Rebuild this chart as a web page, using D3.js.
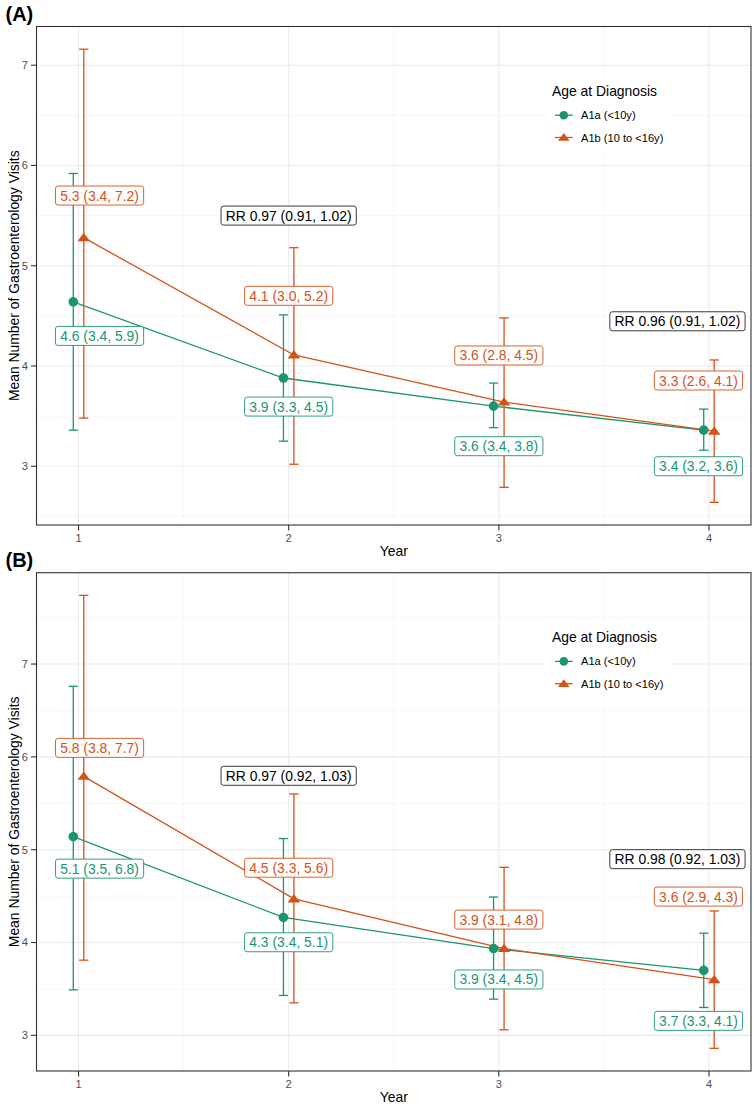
<!DOCTYPE html>
<html>
<head>
<meta charset="utf-8">
<script src="https://cdn.jsdelivr.net/npm/d3@7"></script>
<style>
  html, body { margin: 0; padding: 0; background: #fff; }
  svg { display: block; font-family: "Liberation Sans", Arial, Helvetica, sans-serif; }
</style>
</head>
<body>
<svg id="chart" width="754" height="1104"></svg>
<script>
// ---------------- DATA ----------------
const years = [1, 2, 3, 4];
const groupNames = ["A1a (<10y)", "A1b (10 to <16y)"];
const legendTitle = "Age at Diagnosis";
const yTicks = [3, 4, 5, 6, 7];
const xTicks = [1, 2, 3, 4];

// Panel A
const panelA_A1a_mean  = [4.64, 3.88, 3.60, 3.36];
const panelA_A1a_lower = [3.36, 3.25, 3.385, 3.16];
const panelA_A1a_upper = [5.92, 4.51, 3.83, 3.57];
const panelA_A1a_text  = ["4.6 (3.4, 5.9)", "3.9 (3.3, 4.5)", "3.6 (3.4, 3.8)", "3.4 (3.2, 3.6)"];
const panelA_A1a_labelY = [4.30, 3.595, 3.20, 3.00];

const panelA_A1b_mean  = [5.28, 4.11, 3.64, 3.35];
const panelA_A1b_lower = [3.48, 3.02, 2.79, 2.64];
const panelA_A1b_upper = [7.16, 5.18, 4.48, 4.06];
const panelA_A1b_text  = ["5.3 (3.4, 7.2)", "4.1 (3.0, 5.2)", "3.6 (2.8, 4.5)", "3.3 (2.6, 4.1)"];
const panelA_A1b_labelY = [5.70, 4.70, 4.105, 3.855];

const panelA_rr_text = ["RR 0.97 (0.91, 1.02)", "RR 0.96 (0.91, 1.02)"];
const panelA_rr_labelY = [5.50, 4.446];

// Panel B
const panelB_A1a_mean  = [5.14, 4.27, 3.935, 3.70];
const panelB_A1a_lower = [3.49, 3.43, 3.39, 3.30];
const panelB_A1a_upper = [6.76, 5.12, 4.49, 4.10];
const panelB_A1a_text  = ["5.1 (3.5, 6.8)", "4.3 (3.4, 5.1)", "3.9 (3.4, 4.5)", "3.7 (3.3, 4.1)"];
const panelB_A1a_labelY = [4.796, 4.003, 3.602, 3.156];

const panelB_A1b_mean  = [5.79, 4.47, 3.935, 3.60];
const panelB_A1b_lower = [3.81, 3.35, 3.06, 2.86];
const panelB_A1b_upper = [7.74, 5.60, 4.81, 4.34];
const panelB_A1b_text  = ["5.8 (3.8, 7.7)", "4.5 (3.3, 5.6)", "3.9 (3.1, 4.8)", "3.6 (2.9, 4.3)"];
const panelB_A1b_labelY = [6.097, 4.806, 4.247, 4.495];

const panelB_rr_text = ["RR 0.97 (0.92, 1.03)", "RR 0.98 (0.92, 1.03)"];
const panelB_rr_labelY = [5.796, 4.898];

// label anchor x (data units) per year, and for RR labels
const labelX = [1.10, 2, 3, 3.95];
const rrLabelX = [2, 3.85];

// ---------------- STYLE ----------------
const colors = ["#1b9570", "#d4521a"];
const W = 754, H = 1104;
const plotLeft = 36.5, plotRight = 751;
const panels = [
  { tag: "(A)", top: 26.5, bottom: 525,
    groups: [
      { mean: panelA_A1a_mean, lower: panelA_A1a_lower, upper: panelA_A1a_upper, text: panelA_A1a_text, ly: panelA_A1a_labelY },
      { mean: panelA_A1b_mean, lower: panelA_A1b_lower, upper: panelA_A1b_upper, text: panelA_A1b_text, ly: panelA_A1b_labelY }
    ],
    rr: { text: panelA_rr_text, ly: panelA_rr_labelY } },
  { tag: "(B)", top: 572.7, bottom: 1071,
    groups: [
      { mean: panelB_A1a_mean, lower: panelB_A1a_lower, upper: panelB_A1a_upper, text: panelB_A1a_text, ly: panelB_A1a_labelY },
      { mean: panelB_A1b_mean, lower: panelB_A1b_lower, upper: panelB_A1b_upper, text: panelB_A1b_text, ly: panelB_A1b_labelY }
    ],
    rr: { text: panelB_rr_text, ly: panelB_rr_labelY } }
];

const svg = d3.select("#chart");
svg.append("rect").attr("width", W).attr("height", H).attr("fill", "#fff");

const x = d3.scaleLinear().domain([0.8, 4.2]).range([plotLeft, plotRight]);
const dodge = 0.025;
const labelFont = 13.9;

function drawLabel(g, cx, cy, txt, color, borderColor) {
  const lg = g.append("g");
  const rect = lg.append("rect");
  const t = lg.append("text")
    .attr("x", cx).attr("y", cy + labelFont * 0.36)
    .attr("text-anchor", "middle")
    .attr("font-size", labelFont)
    .attr("fill", color)
    .text(txt);
  const tw = t.node().getComputedTextLength();
  const bw = tw + 9.4, bh = 19;
  rect.attr("x", cx - bw / 2).attr("y", cy - bh / 2)
    .attr("width", bw).attr("height", bh)
    .attr("rx", 2.5).attr("ry", 2.5)
    .attr("fill", "#fff").attr("stroke", borderColor).attr("stroke-width", 0.9);
}

function triangle(r) {
  const h = r * 1.5;
  return `M0,${-h * 0.62} L${r * 1.2},${h * 0.45} L${-r * 1.2},${h * 0.45} Z`;
}

panels.forEach(p => {
  const all = [];
  p.groups.forEach(gr => { all.push(...gr.lower, ...gr.upper, ...gr.mean); });
  const lo = d3.min(all), hi = d3.max(all), ex = (hi - lo) * 0.05;
  const y = d3.scaleLinear().domain([lo - ex, hi + ex]).range([p.bottom, p.top]);
  const g = svg.append("g");

  // grid
  const grid = g.append("g");
  const yMinor = d3.range(2.5, 8, 1).filter(v => v >= y.domain()[0] && v <= y.domain()[1]);
  const xMinor = [1.5, 2.5, 3.5];
  grid.selectAll(".ymin").data(yMinor).enter().append("line")
    .attr("x1", plotLeft).attr("x2", plotRight)
    .attr("y1", d => y(d)).attr("y2", d => y(d))
    .attr("stroke", "#f2f2f2").attr("stroke-width", 0.6);
  grid.selectAll(".xmin").data(xMinor).enter().append("line")
    .attr("y1", p.top).attr("y2", p.bottom)
    .attr("x1", d => x(d)).attr("x2", d => x(d))
    .attr("stroke", "#f2f2f2").attr("stroke-width", 0.6);
  grid.selectAll(".ymaj").data(yTicks).enter().append("line")
    .attr("x1", plotLeft).attr("x2", plotRight)
    .attr("y1", d => y(d)).attr("y2", d => y(d))
    .attr("stroke", "#ebebeb").attr("stroke-width", 1.1);
  grid.selectAll(".xmaj").data(xTicks).enter().append("line")
    .attr("y1", p.top).attr("y2", p.bottom)
    .attr("x1", d => x(d)).attr("x2", d => x(d))
    .attr("stroke", "#ebebeb").attr("stroke-width", 1.1);

  // lines
  p.groups.forEach((gr, gi) => {
    const off = gi === 0 ? -dodge : dodge;
    const line = d3.line().x((d, i) => x(years[i] + off)).y(d => y(d));
    g.append("path").attr("d", line(gr.mean))
      .attr("fill", "none").attr("stroke", colors[gi]).attr("stroke-width", 1.3);
  });
  // error bars
  p.groups.forEach((gr, gi) => {
    const off = gi === 0 ? -dodge : dodge;
    years.forEach((yr, i) => {
      const cx = x(yr + off);
      const eb = g.append("g").attr("stroke", colors[gi]).attr("stroke-width", 1.3);
      eb.append("line").attr("x1", cx).attr("x2", cx).attr("y1", y(gr.lower[i])).attr("y2", y(gr.upper[i]));
      eb.append("line").attr("x1", cx - 4.6).attr("x2", cx + 4.6).attr("y1", y(gr.lower[i])).attr("y2", y(gr.lower[i]));
      eb.append("line").attr("x1", cx - 4.6).attr("x2", cx + 4.6).attr("y1", y(gr.upper[i])).attr("y2", y(gr.upper[i]));
    });
  });
  // points
  p.groups.forEach((gr, gi) => {
    const off = gi === 0 ? -dodge : dodge;
    years.forEach((yr, i) => {
      const cx = x(yr + off), cy = y(gr.mean[i]);
      if (gi === 0) {
        g.append("circle").attr("cx", cx).attr("cy", cy).attr("r", 4.8).attr("fill", colors[gi]);
      } else {
        g.append("path").attr("d", triangle(5.2)).attr("transform", `translate(${cx},${cy})`).attr("fill", colors[gi]);
      }
    });
  });
  // value labels
  p.groups.forEach((gr, gi) => {
    years.forEach((yr, i) => {
      drawLabel(g, x(labelX[i]), y(gr.ly[i]), gr.text[i], colors[gi], colors[gi]);
    });
  });
  // RR labels
  p.rr.text.forEach((t, i) => {
    drawLabel(g, x(rrLabelX[i]), y(p.rr.ly[i]), t, "#000", "#222");
  });

  // legend
  const lgTop = p.top;
  const leg = g.append("g");
  leg.append("rect").attr("x", 546.5).attr("y", lgTop + 50).attr("width", 125).attr("height", 77).attr("fill", "#fff");
  leg.append("text").attr("x", 552).attr("y", lgTop + 69.5).attr("font-size", 13.9).attr("fill", "#000").text(legendTitle);
  groupNames.forEach((nm, gi) => {
    const ky = lgTop + 88.7 + gi * 22.3;
    leg.append("line").attr("x1", 555).attr("x2", 572.7).attr("y1", ky).attr("y2", ky)
      .attr("stroke", colors[gi]).attr("stroke-width", 1.3);
    if (gi === 0) {
      leg.append("circle").attr("cx", 563.8).attr("cy", ky).attr("r", 4.3).attr("fill", colors[gi]);
    } else {
      leg.append("path").attr("d", triangle(4.8)).attr("transform", `translate(563.8,${ky})`).attr("fill", colors[gi]);
    }
    leg.append("text").attr("x", 581).attr("y", ky + 4).attr("font-size", 11.1).attr("fill", "#000").text(nm);
  });

  // border
  g.append("rect").attr("x", plotLeft).attr("y", p.top)
    .attr("width", plotRight - plotLeft).attr("height", p.bottom - p.top)
    .attr("fill", "none").attr("stroke", "#333").attr("stroke-width", 1.1);

  // y axis ticks
  const yAx = g.append("g");
  yTicks.forEach(v => {
    yAx.append("line").attr("x1", plotLeft - 5.5).attr("x2", plotLeft).attr("y1", y(v)).attr("y2", y(v))
      .attr("stroke", "#333").attr("stroke-width", 1.1);
    yAx.append("text").attr("x", plotLeft - 8.5).attr("y", y(v) + 3.9)
      .attr("text-anchor", "end").attr("font-size", 11.1).attr("fill", "#4d4d4d").text(v);
  });
  // x axis ticks
  const xAx = g.append("g");
  xTicks.forEach(v => {
    xAx.append("line").attr("x1", x(v)).attr("x2", x(v)).attr("y1", p.bottom).attr("y2", p.bottom + 5.5)
      .attr("stroke", "#333").attr("stroke-width", 1.1);
    xAx.append("text").attr("x", x(v)).attr("y", p.bottom + 16.5)
      .attr("text-anchor", "middle").attr("font-size", 11.1).attr("fill", "#4d4d4d").text(v);
  });
  // axis titles
  g.append("text").attr("x", (plotLeft + plotRight) / 2).attr("y", p.bottom + 31)
    .attr("text-anchor", "middle").attr("font-size", 13.9).attr("fill", "#000").text("Year");
  const ymid = (p.top + p.bottom) / 2;
  g.append("text").attr("transform", `translate(18.5,${ymid}) rotate(-90)`)
    .attr("text-anchor", "middle").attr("font-size", 13.9).attr("fill", "#000")
    .text("Mean Number of Gastroenterology Visits");
  // panel tag
  g.append("text").attr("x", 5.5).attr("y", p.top - 6)
    .attr("font-size", 20).attr("font-weight", "bold").attr("fill", "#000").text(p.tag);
});
</script>
</body>
</html>
